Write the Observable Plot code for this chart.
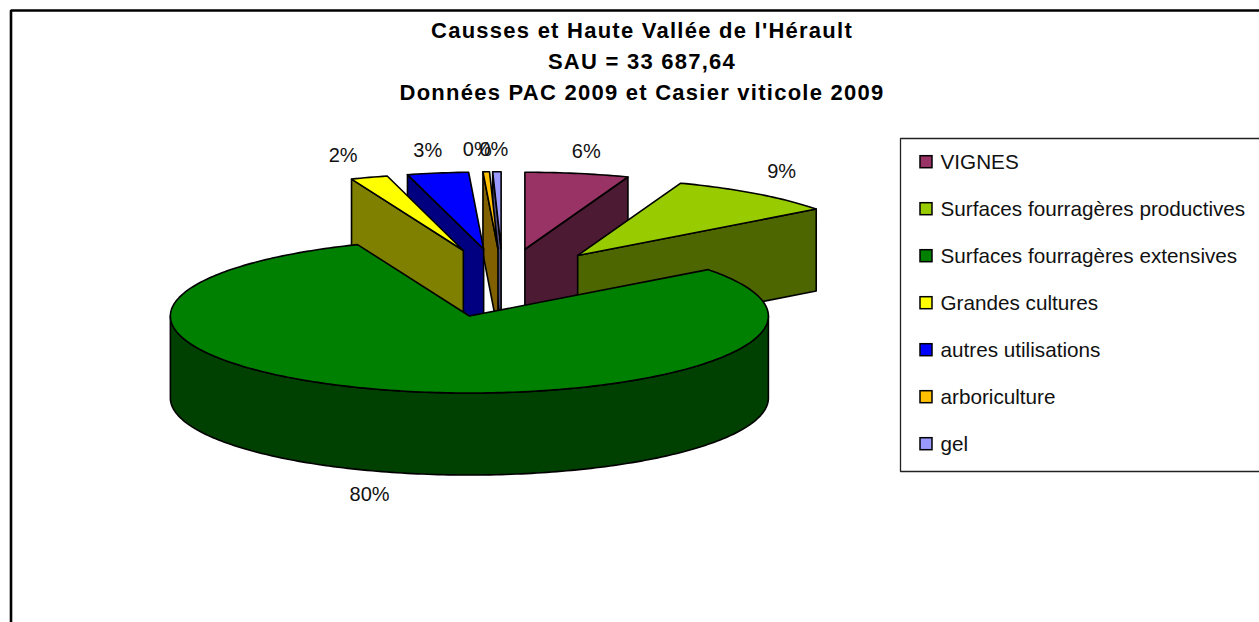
<!DOCTYPE html>
<html lang="fr">
<head>
<meta charset="utf-8">
<script src="https://cdn.jsdelivr.net/npm/d3@7"></script>
<script src="https://cdn.jsdelivr.net/npm/@observablehq/plot@0.6"></script>
<style>
html,body{margin:0;padding:0;background:#fff;overflow:hidden}
svg{display:block}
.chart-title{letter-spacing:1.25px}
</style>
</head>
<body>
<div id="chart"></div>
<script>
// Data
const categories = ["VIGNES","Surfaces fourragères productives","Surfaces fourragères extensives","Grandes cultures","autres utilisations","arboriculture","gel"];
const shares = [5.6, 9.1, 79.2, 2.0, 3.3, 0.35, 0.45];
const shareLabels = ["6%","9%","80%","2%","3%","0%","0%"];
const titleLines = ["Causses et Haute Vallée de l'Hérault","SAU = 33 687,64","Données PAC 2009 et Casier viticole 2009"];
// Styles
const topColors = ["#993366","#99CC00","#008000","#FFFF00","#0000FF","#FFC000","#9999FF"];
const sideColors = ["#4D1A33","#4D6600","#004000","#808000","#000080","#806000","#4D4D80"];
// Layout
const W = 1259, H = 622;
const pie = {cx: 502.4, cy: 282.5, rx: 299, ry: 77, depth: 82, explodeX: 0.42, explodeY: 0.445};
const paintOrder = [6,5,4,3,0,1,2];
const labelDx = [9,26,-20,-26,-10,-9,-3];
const legend = {x: 900, top: 138, bottom: 471, first: 161.7, step: 47, swatchX: 920, swatchSize: 12, textX: 940};

const total = d3.sum(shares);
const TAU = 2 * Math.PI;
let acc = 0;
const slices = shares.map((v, i) => {
  const a0 = acc / total * TAU; acc += v;
  const a1 = acc / total * TAU;
  const mid = (a0 + a1) / 2;
  const ox = pie.cx + pie.rx * pie.explodeX * Math.sin(mid);
  const oy = pie.cy - pie.ry * pie.explodeY * Math.cos(mid);
  return {i, a0, a1, mid, ox, oy};
});
const rim = (s, a, dz = 0) => ({x: s.ox + pie.rx * Math.sin(a), y: s.oy - pie.ry * Math.cos(a) + dz});
const arc = (s, a0, a1, dz = 0) => {
  const n = Math.max(2, Math.ceil((a1 - a0) / TAU * 360));
  return d3.range(n + 1).map(k => rim(s, a0 + (a1 - a0) * k / n, dz));
};
const close = pts => [...pts, pts[0]];
const polys = [];
for (const i of paintOrder) {
  const s = slices[i], apex = {x: s.ox, y: s.oy}, low = {x: s.ox, y: s.oy + pie.depth};
  const face = a => close([apex, rim(s, a), rim(s, a, pie.depth), low]);
  if (Math.sin(s.a0) < -1e-6) polys.push({pts: face(s.a0), fill: sideColors[i]});
  if (Math.sin(s.a1) > 1e-6) polys.push({pts: face(s.a1), fill: sideColors[i]});
  const w0 = Math.max(s.a0, Math.PI / 2), w1 = Math.min(s.a1, 3 * Math.PI / 2);
  if (w1 > w0) polys.push({pts: close([...arc(s, w0, w1), ...arc(s, w0, w1, pie.depth).reverse()]), fill: sideColors[i]});
  polys.push({pts: close([apex, ...arc(s, s.a0, s.a1)]), fill: topColors[i]});
}
const labels = slices.map(s => {
  const p = rim(s, s.mid), front = Math.cos(s.mid) < 0;
  return {x: p.x + labelDx[s.i], y: p.y + (front ? pie.depth + 22 : -22), text: shareLabels[s.i]};
});
const legendRows = categories.map((name, i) => ({name, i, y: legend.first + i * legend.step}));
const half = legend.swatchSize / 2;
const fontFamily = "'Liberation Sans', Arial, sans-serif";

const chart = Plot.plot({
  width: W, height: H, margin: 0,
  x: {domain: [0, W], range: [0, W], axis: null},
  y: {domain: [0, H], range: [0, H], axis: null},
  style: {background: "#fff", fontFamily},
  marks: [
    // chart frame
    Plot.line([{x: W, y: 10}, {x: 10.5, y: 10}, {x: 10.5, y: H}], {x: "x", y: "y", stroke: "#000", strokeWidth: 2.6, strokeLinejoin: "miter"}),
    // slices
    ...polys.map(p => Plot.line(p.pts, {x: "x", y: "y", fill: p.fill, stroke: "#000", strokeWidth: 1.6, strokeLinejoin: "round"})),
    // percentage labels
    Plot.text(labels, {x: "x", y: "y", text: "text", fontSize: 20, fill: "#111", textAnchor: "middle", lineAnchor: "middle"}),
    // title
    Plot.text(titleLines, {x: () => 641.5, y: (d, i) => 30.5 + i * 31, text: d => d, fontSize: 22, fontWeight: "bold", fill: "#000", textAnchor: "middle", lineAnchor: "middle", className: "chart-title"}),
    // legend
    Plot.line([{x: W, y: legend.top}, {x: legend.x, y: legend.top}, {x: legend.x, y: legend.bottom}, {x: W, y: legend.bottom}], {x: "x", y: "y", stroke: "#222", strokeWidth: 1.3, strokeLinejoin: "miter"}),
    ...legendRows.map(r => Plot.rect([r], {x1: () => legend.swatchX, x2: () => legend.swatchX + legend.swatchSize, y1: d => d.y - half, y2: d => d.y + half, fill: topColors[r.i], stroke: "#000", strokeWidth: 1.5})),
    Plot.text(legendRows, {x: () => legend.textX, y: "y", text: "name", fontSize: 20.7, fill: "#111", textAnchor: "start", lineAnchor: "middle"})
  ]
});
document.getElementById("chart").append(chart);
</script>
</body>
</html>
